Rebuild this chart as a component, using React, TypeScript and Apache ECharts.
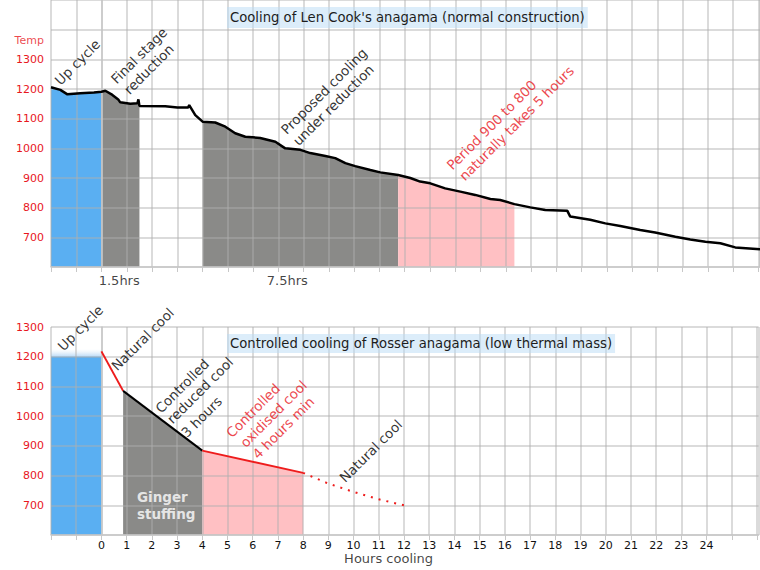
import React, { useEffect, useRef } from "react";
import * as echarts from "echarts";

// ---------- data ----------
const hourMin = -2;
const hourMax = 26.06;
const hourTickLabels = [0, 1, 2, 3, 4, 5, 6, 7, 8, 9, 10, 11, 12, 13, 14, 15, 16, 17, 18, 19, 20, 21, 22, 23, 24];
const tempTickLabels = [700, 800, 900, 1000, 1100, 1200, 1300];

// Len Cook's anagama: measured cooling curve [hours, temp]
const lenCookCurve: [number, number][] = [
  [-2.0, 1206], [-1.63, 1197], [-1.35, 1182], [-0.84, 1186], [-0.3, 1188], [0, 1191],
  [0.15, 1194], [0.43, 1180], [0.66, 1165], [0.74, 1155], [1.14, 1150], [1.42, 1152],
  [1.46, 1165], [1.5, 1143], [2.52, 1142], [3.0, 1138], [3.43, 1138], [3.47, 1146],
  [3.71, 1112], [4.0, 1090], [4.5, 1087], [4.9, 1073], [5.29, 1051], [5.69, 1039],
  [6.28, 1035], [6.88, 1022], [7.27, 1000], [7.87, 995], [8.26, 984], [8.86, 974],
  [9.25, 967], [9.65, 950], [10.04, 940], [10.64, 927], [11.03, 919], [11.74, 910],
  [12.22, 900], [12.61, 888], [13.01, 882], [13.6, 865], [14.2, 854], [14.79, 843],
  [15.39, 829], [15.78, 826], [16.34, 812], [16.97, 801], [17.56, 792], [18.43, 790],
  [18.55, 770], [19.34, 759], [19.94, 747], [20.53, 738], [21.32, 725], [21.91, 716],
  [22.71, 702], [23.3, 693], [23.9, 685], [24.49, 680], [25.08, 666], [26.06, 660],
];

// stages shaded under the Len Cook curve
const lenCookStages = [
  { kind: "up", from: -2, to: 0 },
  { kind: "reduction", from: 0, to: 1.5 },
  { kind: "reduction", from: 4, to: 11.74 },
  { kind: "oxidised", from: 11.74, to: 16.34 },
];

// Rosser anagama: controlled cooling
const rosserUpCycle: [number, number][] = [[-2, 1200], [0, 1200]];
const rosserUpHaze: [number, number][] = [[-2, 1226], [0, 1226]];
const rosserNaturalCool: [number, number][] = [[0, 1218], [0.86, 1085]];
const rosserReducedCool: [number, number][] = [[0.86, 1085], [4, 884]];
const rosserOxidisedCool: [number, number][] = [[4, 884], [8, 809]];
const rosserNaturalTail: [number, number][] = [[8, 809], [9, 773], [10, 745], [11, 720], [12, 700]];

// annotations (text, hours, temp)
const topNotesBlack = [
  { text: "Up cycle", h: -0.96, t: 1291 },
  { text: "Final stage", h: 1.48, t: 1313 },
  { text: "reduction", h: 1.87, t: 1267 },
  { text: "Proposed cooling", h: 8.8, t: 1193 },
  { text: "under reduction", h: 9.17, t: 1146 },
];
const topNotesRed = [
  { text: "Period 900 to 800", h: 15.43, t: 1079 },
  { text: "naturally takes 5 hours", h: 16.42, t: 1085 },
];
const topSpanLabels = [
  { text: "1.5hrs", h: 0.7, t: 553 },
  { text: "7.5hrs", h: 7.35, t: 553 },
];
const topAxisName = { text: "Temp", h: -2.86, t: 1362 };

const bottomNotesBlack = [
  { text: "Up cycle", h: -0.84, t: 1297 },
  { text: "Natural cool", h: 1.63, t: 1259 },
  { text: "Controlled", h: 3.2, t: 1102 },
  { text: "reduced cool", h: 3.91, t: 1087 },
  { text: "3 hours", h: 3.97, t: 998 },
  { text: "Natural cool", h: 10.68, t: 883 },
];
const bottomNotesRed = [
  { text: "Controlled", h: 6.01, t: 1019 },
  { text: "oxidised cool", h: 6.82, t: 1008 },
  { text: "4 hours min", h: 7.21, t: 961 },
];
const gingerNote = { text: "Ginger\nstuffing", h: 1.41, t: 700 };
const bottomAxisName = { text: "Hours cooling", h: 11.39, t: 522 };

const topTitle = "Cooling of Len Cook's anagama (normal construction)";
const bottomTitle = "Controlled cooling of Rosser anagama (low thermal mass)";

// ---------- styles ----------
const FONT = "DejaVu Sans";
const BLUE = "#5aaff2";
const GREY = "#8a8a88";
const PINK = "#ffc0c3";
const RED = "#ee1c1c";
const TEXT_RED = "#e8161e";
const GRID = "rgba(175,175,175,0.6)";
const stageColor: Record<string, string> = { up: BLUE, reduction: GREY, oxidised: PINK };

function noteSeries(notes: { text: string; h: number; t: number }[], idx: number, label: any) {
  return {
    type: "scatter",
    xAxisIndex: idx,
    yAxisIndex: idx,
    clip: false,
    symbolSize: 0,
    silent: true,
    z: 10,
    data: notes.map((n) => ({ value: [n.h, n.t], name: n.text })),
    label: {
      show: true,
      position: "inside",
      formatter: (p: any) => p.name,
      fontFamily: FONT,
      align: "center",
      verticalAlign: "middle",
      ...label,
    },
  };
}

function areaSeries(data: [number, number][], idx: number, color: any, z = 1) {
  return {
    type: "line",
    xAxisIndex: idx,
    yAxisIndex: idx,
    data,
    symbol: "none",
    silent: true,
    z,
    lineStyle: { width: 0, opacity: 0 },
    areaStyle: { color, opacity: 1, origin: "start" },
  };
}

function lineSeries(data: [number, number][], idx: number, color: string, type: any = "solid", width = 2) {
  return {
    type: "line",
    xAxisIndex: idx,
    yAxisIndex: idx,
    data,
    symbol: "none",
    silent: true,
    z: 6,
    lineStyle: { color, width, type },
  };
}

function xAxis(idx: number, showLabels: boolean) {
  return {
    type: "value",
    gridIndex: idx,
    min: hourMin,
    max: hourMax,
    interval: 1,
    z: 3,
    axisLine: { show: true, lineStyle: { color: "#c8c8c8", width: 1.5 } },
    axisTick: { show: true, length: 5, lineStyle: { color: "#c8c8c8" } },
    splitLine: { show: true, lineStyle: { color: GRID, width: 1.5 } },
    axisLabel: {
      show: showLabels,
      margin: 5,
      fontFamily: FONT,
      fontSize: 11,
      color: "#111",
      showMaxLabel: false,
      formatter: (v: number) => (hourTickLabels.includes(Math.round(v * 100) / 100) ? String(v) : ""),
    },
  };
}

function yAxis(idx: number, max: number) {
  return {
    type: "value",
    gridIndex: idx,
    min: 600,
    max,
    interval: 100,
    z: 3,
    axisLine: { show: true, lineStyle: { color: "#c8c8c8", width: 1.5 } },
    axisTick: { show: false },
    splitLine: { show: true, lineStyle: { color: GRID, width: 1.5 } },
    axisLabel: {
      margin: 7,
      fontFamily: FONT,
      fontSize: 11,
      color: TEXT_RED,
      formatter: (v: number) => (tempTickLabels.includes(v) ? String(v) : ""),
    },
  };
}

export default function App() {
  const ref = useRef<HTMLDivElement>(null);

  useEffect(() => {
    document.body.style.margin = "0";
    if (!ref.current) return;
    const chart = echarts.init(ref.current, undefined, { renderer: "svg" });

    const stageSeries = lenCookStages.map((s) =>
      areaSeries(
        lenCookCurve.filter((p) => p[0] >= s.from && p[0] <= s.to),
        0,
        stageColor[s.kind]
      )
    );

    const option: any = {
      animation: false,
      backgroundColor: "#fff",
      textStyle: { fontFamily: FONT },
      title: [
        {
          text: topTitle,
          left: 227,
          top: 7,
          padding: [4, 3, 4, 3],
          backgroundColor: "rgba(185,220,246,0.5)",
          textStyle: { fontFamily: FONT, fontSize: 13.2, fontWeight: "normal", color: "#1d1d1d" },
        },
        {
          text: bottomTitle,
          left: 227,
          top: 334,
          padding: [3, 3, 3, 3],
          backgroundColor: "rgba(185,220,246,0.5)",
          textStyle: { fontFamily: FONT, fontSize: 13.2, fontWeight: "normal", color: "#1d1d1d" },
        },
      ],
      grid: [
        { left: 51, top: 0, width: 709, height: 267 },
        { left: 51, top: 327, width: 709, height: 208 },
      ],
      xAxis: [xAxis(0, false), xAxis(1, true)],
      yAxis: [yAxis(0, 1500), yAxis(1, 1300)],
      series: [
        ...stageSeries,
        {
          type: "line",
          xAxisIndex: 0,
          yAxisIndex: 0,
          data: lenCookCurve,
          symbol: "none",
          silent: true,
          z: 6,
          lineStyle: { color: "#000", width: 2.5 },
        },
        noteSeries(topNotesBlack, 0, { rotate: 45, fontSize: 13.5, color: "#000" }),
        noteSeries(topNotesRed, 0, { rotate: 45, fontSize: 13.5, color: TEXT_RED }),
        noteSeries(topSpanLabels, 0, { fontSize: 13, color: "#111" }),
        noteSeries([topAxisName], 0, { fontSize: 11, color: TEXT_RED }),

        areaSeries(rosserUpHaze, 1, {
          type: "linear",
          x: 0,
          y: 0,
          x2: 0,
          y2: 1,
          colorStops: [
            { offset: 0, color: "rgba(225,238,250,0)" },
            { offset: 0.045, color: "rgba(175,212,245,1)" },
            { offset: 1, color: "rgba(175,212,245,1)" },
          ],
        }, 0),
        areaSeries(rosserUpCycle, 1, BLUE),
        areaSeries(rosserReducedCool, 1, GREY),
        areaSeries(rosserOxidisedCool, 1, PINK),
        lineSeries(rosserNaturalCool, 1, RED),
        lineSeries(rosserReducedCool, 1, "#000"),
        lineSeries(rosserOxidisedCool, 1, RED),
        lineSeries(rosserNaturalTail, 1, RED, [2, 6], 2),
        noteSeries(bottomNotesBlack, 1, { rotate: 45, fontSize: 13.5, color: "#000" }),
        noteSeries(bottomNotesRed, 1, { rotate: 45, fontSize: 13.5, color: TEXT_RED }),
        noteSeries([gingerNote], 1, {
          fontSize: 13.5,
          fontWeight: "bold",
          color: "#fff",
          align: "left",
          lineHeight: 17,
        }),
        noteSeries([bottomAxisName], 1, { fontSize: 13, color: "#111" }),
      ],
    };

    chart.setOption(option);
    return () => chart.dispose();
  }, []);

  return (
    <div
      ref={ref}
      style={{ position: "absolute", left: 0, top: 0, width: 760, height: 570, background: "#fff" }}
    />
  );
}
